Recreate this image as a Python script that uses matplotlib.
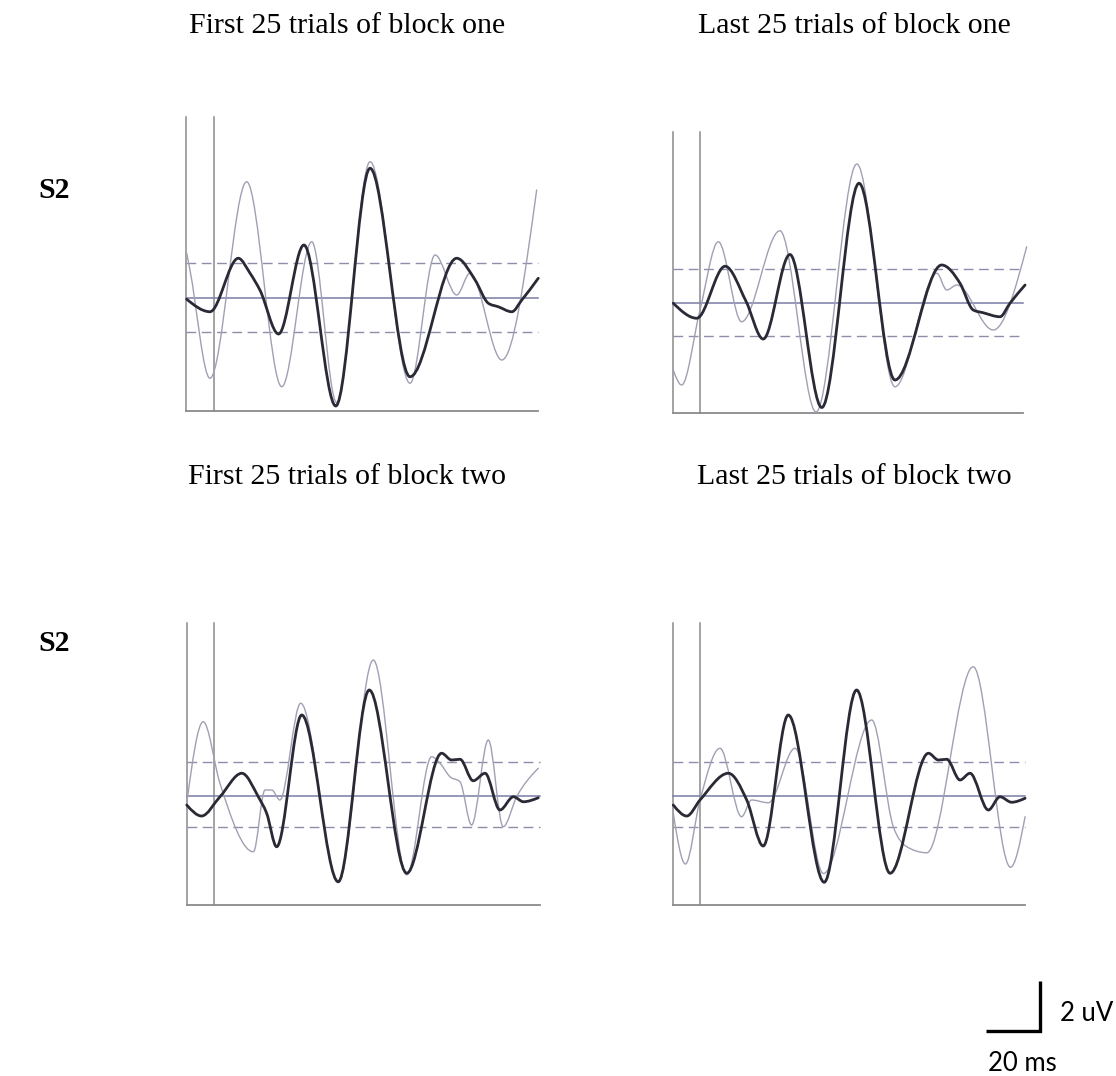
import numpy as np
import matplotlib
matplotlib.use("Agg")
import matplotlib.pyplot as plt
from matplotlib.path import Path
from matplotlib.patches import PathPatch

# ---------------- data (time in ms, amplitude in uV) ----------------
titles = ["First 25 trials of block one", "Last 25 trials of block one",
          "First 25 trials of block two", "Last 25 trials of block two"]
row_labels = ["S2", "S2"]

p1_dark_t = [-10.1, -1.5, 9.0, 13.3, 17.0, 23.9, 33.3, 45.1, 57.8, 72.6, 89.9, 96.7, 101.6, 105.3, 110.3, 114.0, 120.1]
p1_dark_v = [-0.05, -0.55, 1.59, 1.00, 0.32, -1.44, 2.12, -4.32, 5.19, -3.15, 1.59, 0.72, -0.21, -0.35, -0.55, -0.08, 0.79]
p1_light_t = [-10.1, -8.9, -1.5, 12.1, 25.1, 36.2, 45.4, 57.8, 72.6, 81.9, 89.9, 94.8, 106.6, 119.5]
p1_light_v = [1.79, 1.12, -3.21, 4.65, -3.55, 2.25, -4.18, 5.45, -3.41, 1.72, 0.12, 0.99, -2.48, 4.32]

p2_dark_t = [-9.9, -1.2, 9.3, 17.0, 23.4, 33.3, 45.1, 58.9, 72.2, 89.5, 96.3, 101.2, 104.9, 111.1, 114.8, 120.4]
p2_dark_v = [-0.01, -0.61, 1.47, 0.08, -1.44, 1.94, -4.18, 4.79, -3.08, 1.52, 0.79, -0.28, -0.39, -0.55, -0.01, 0.72]
p2_light_t = [-9.9, -6.8, 0.0, 6.8, 15.4, 29.6, 43.0, 58.1, 72.2, 87.7, 91.4, 95.1, 108.6, 121.0]
p2_light_v = [-2.68, -3.28, -0.28, 2.45, -0.75, 2.89, -4.36, 5.56, -3.35, 1.19, 0.52, 0.72, -1.08, 2.25]

p3_dark_t = [-10.1, -4.6, 2.2, 10.3, 16.4, 19.5, 23.2, 32.5, 46.0, 57.5, 71.4, 84.3, 88.0, 91.1, 96.0, 100.4, 105.9, 110.9, 114.6, 120.1]
p3_dark_v = [-0.36, -0.80, -0.03, 0.91, -0.03, -0.69, -2.03, 3.24, -3.43, 4.24, -3.09, 1.71, 1.44, 1.47, 0.61, 0.91, -0.56, -0.03, -0.23, -0.07]
p3_light_t = [-10.1, -4.0, 2.2, 14.6, 18.9, 21.4, 24.4, 32.1, 46.0, 59.0, 71.4, 80.6, 83.7, 87.4, 91.1, 95.4, 101.6, 107.1, 112.1, 120.1]
p3_light_v = [-0.29, 2.97, 0.51, -2.23, 0.24, 0.24, -0.16, 3.71, -3.46, 5.44, -3.15, 1.57, 1.31, 0.77, 0.57, -1.16, 2.24, -1.23, -0.03, 1.11]

p4_dark_t = [-9.9, -4.9, 0.0, 10.5, 17.3, 23.4, 32.7, 46.0, 58.0, 70.4, 84.6, 88.3, 91.4, 96.3, 100.0, 106.8, 111.1, 115.4, 120.4]
p4_dark_v = [-0.36, -0.80, -0.16, 0.91, -0.16, -2.00, 3.24, -3.45, 4.24, -3.09, 1.71, 1.44, 1.47, 0.64, 0.91, -0.56, -0.03, -0.25, -0.09]
p4_light_t = [-9.9, -5.4, 0.0, 7.4, 15.4, 19.1, 25.3, 35.2, 45.7, 63.6, 71.6, 76.6, 84.0, 101.2, 115.0, 120.4]
p4_light_v = [-0.69, -2.72, -0.16, 1.91, -0.83, -0.16, -0.27, 1.91, -3.10, 3.04, -1.23, -2.03, -2.27, 5.17, -2.85, -0.83]

thr_upper = [1.40, 1.36, 1.36, 1.36]
thr_lower = [-1.36, -1.32, -1.24, -1.24]

scale_ms = 20
scale_uv = 2

# ---------------- layout ----------------
W, H = 1116, 1076
PX_PER_MS = 2.7
PX_PER_UV = 25.0
fig = plt.figure(figsize=(W / 100, H / 100), dpi=100)

# (left, right, top, bottom, stimulus x, baseline y) in pixels
panels_px = [(186, 538, 117, 411, 214, 298),
             (673, 1023, 132, 413, 700, 303),
             (187, 540, 623, 905, 214, 796),
             (673, 1025, 623, 905, 700, 796)]
title_pos = [(347, 33), (854, 33), (347, 484), (854, 484)]
label_pos = [(38, 198), (38, 651)]

AXIS_C = "#8a8a8a"
BASE_C = "#7a7aa6"
DASH_C = "#8e8eaa"
LIGHT_C = "#a0a0b4"
DARK_C = "#2a2a36"


def make_ax(left, right, top, bottom, sx, by):
    ax = fig.add_axes([left / W, 1 - bottom / H, (right - left) / W, (bottom - top) / H])
    ax.set_xlim((left - sx) / PX_PER_MS, (right - sx) / PX_PER_MS)
    ax.set_ylim((by - bottom) / PX_PER_UV, (by - top) / PX_PER_UV)
    ax.axis("off")
    return ax


def smooth_path(t, v):
    x = np.asarray(t, float)
    y = np.asarray(v, float)
    n = len(x)
    h = np.diff(x)
    s = np.diff(y) / h
    m = np.zeros(n)
    for i in range(1, n - 1):
        if s[i - 1] * s[i] <= 0:
            m[i] = 0.0
        else:
            p = (s[i - 1] * h[i] + s[i] * h[i - 1]) / (h[i - 1] + h[i])
            m[i] = (np.sign(s[i - 1]) + np.sign(s[i])) * min(abs(s[i - 1]), abs(s[i]), 0.5 * abs(p))
    m[0] = (3 * s[0] - m[1]) / 2
    m[-1] = (3 * s[-1] - m[-2]) / 2
    verts = [(x[0], y[0])]
    codes = [Path.MOVETO]
    for i in range(n - 1):
        d = h[i] / 3
        verts += [(x[i] + d, y[i] + m[i] * d), (x[i + 1] - d, y[i + 1] - m[i + 1] * d), (x[i + 1], y[i + 1])]
        codes += [Path.CURVE4] * 3
    return Path(verts, codes)


def draw_trace(ax, t, v, color, lw, z):
    patch = PathPatch(smooth_path(t, v), fill=False, edgecolor=color, lw=lw,
                      capstyle="round", joinstyle="round", zorder=z, clip_on=False)
    ax.add_patch(patch)


traces = [(p1_dark_t, p1_dark_v, p1_light_t, p1_light_v),
          (p2_dark_t, p2_dark_v, p2_light_t, p2_light_v),
          (p3_dark_t, p3_dark_v, p3_light_t, p3_light_v),
          (p4_dark_t, p4_dark_v, p4_light_t, p4_light_v)]

for k, geom in enumerate(panels_px):
    ax = make_ax(*geom)
    x0, x1 = ax.get_xlim()
    y0, y1 = ax.get_ylim()
    ax.plot([x0, x0], [y0, y1], color=AXIS_C, lw=1.1, clip_on=False, zorder=1)
    ax.plot([0, 0], [y0, y1], color=AXIS_C, lw=1.1, clip_on=False, zorder=1)
    ax.plot([x0, x1], [y0, y0], color=AXIS_C, lw=1.3, clip_on=False, zorder=1)
    ax.plot([x0, x1], [0, 0], color=BASE_C, lw=1.1, clip_on=False, zorder=1)
    for thr in (thr_upper[k], thr_lower[k]):
        ax.plot([x0, x1], [thr, thr], color=DASH_C, lw=1.0, dashes=(7, 4), clip_on=False, zorder=1)
    dt, dv, lt, lv = traces[k]
    draw_trace(ax, lt, lv, LIGHT_C, 1.0, 2)
    draw_trace(ax, dt, dv, DARK_C, 2.0, 3)

    tx, ty = title_pos[k]
    fig.text(tx / W, 1 - ty / H, titles[k], ha="center", va="baseline",
             family="Liberation Serif", fontsize=21.5, color="black")

for (lx, ly), lab in zip(label_pos, row_labels):
    fig.text(lx / W, 1 - ly / H, lab, ha="left", va="baseline",
             family="Liberation Serif", fontweight="bold", fontsize=21.5, color="black")

# scale bar (same ms / uV scaling as panels); corner at pixel (1040, 1031)
cx, cy = 1040, 1031
sleft, sright, stop, sbottom = 960, 1116, 960, 1045
sax = fig.add_axes([sleft / W, 1 - sbottom / H, (sright - sleft) / W, (sbottom - stop) / H])
sax.set_xlim((sleft - cx) / PX_PER_MS, (sright - cx) / PX_PER_MS)
sax.set_ylim((cy - sbottom) / PX_PER_UV, (cy - stop) / PX_PER_UV)
sax.axis("off")
sax.plot([-scale_ms, 0, 0], [0, 0, scale_uv], color="black", lw=2.4,
         solid_joinstyle="miter", solid_capstyle="butt", clip_on=False)

fig.text(1060 / W, 1 - 1021 / H, f"{scale_uv} uV", ha="left", va="baseline",
         family="Lato", fontsize=18.5, color="black")
fig.text(988 / W, 1 - 1071 / H, f"{scale_ms} ms", ha="left", va="baseline",
         family="Lato", fontsize=18.5, color="black")

fig.savefig("out.png", dpi=100)
